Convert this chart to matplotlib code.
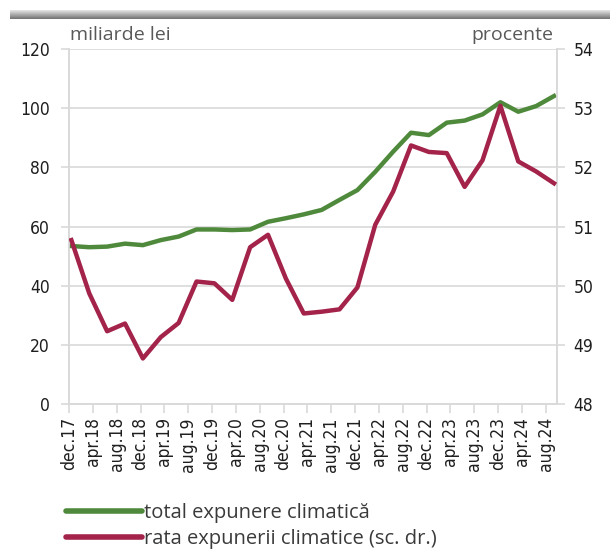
import matplotlib
matplotlib.use('Agg')
import matplotlib.pyplot as plt
import numpy as np
from matplotlib.lines import Line2D

# ---- data (quarterly, dec.17 .. sep.24) ----
total_expunere = [53.4, 53.0, 53.2, 54.2, 53.7, 55.4, 56.6, 59.0, 59.0, 58.8,
                  59.0, 61.6, 62.8, 64.1, 65.6, 69.0, 72.3, 78.5, 85.3, 91.7,
                  90.9, 95.1, 95.8, 97.9, 102.0, 98.8, 100.7, 104.1]
rata_expunerii = [50.77, 49.87, 49.23, 49.36, 48.77, 49.13, 49.37, 50.07, 50.04, 49.76,
                  50.65, 50.86, 50.12, 49.53, 49.56, 49.60, 49.97, 51.03, 51.59, 52.37,
                  52.26, 52.24, 51.67, 52.12, 53.04, 52.10, 51.93, 51.73]
tick_labels = ['dec.17', 'apr.18', 'aug.18', 'dec.18', 'apr.19', 'aug.19', 'dec.19',
               'apr.20', 'aug.20', 'dec.20', 'apr.21', 'aug.21', 'dec.21', 'apr.22',
               'aug.22', 'dec.22', 'apr.23', 'aug.23', 'dec.23', 'apr.24', 'aug.24']
left_ticks = [0, 20, 40, 60, 80, 100, 120]
right_ticks = [48, 49, 50, 51, 52, 53, 54]
series_names = ['total expunere climatică', 'rata expunerii climatice (sc. dr.)']

GREEN = '#4f8a3c'
RED = '#a3234a'
GRID = '#d9d9d9'
TXT = '#1e1e1e'
REG = ['Open Sans', 'DejaVu Sans']


def condense(labels, size):
    for lab in labels:
        lab.set_family('DejaVu Sans')
        lab.set_fontstretch('condensed')
        lab.set_fontsize(size)
        lab.set_color(TXT)


W, H = 610, 551
fig = plt.figure(figsize=(W / 100, H / 100), dpi=100)

# top shadow bar
bar = fig.add_axes([10 / W, 1 - 19 / H, 600 / W, 9 / H])
grad = np.linspace(0.9, 0.45, 20).reshape(-1, 1)
bar.imshow(grad, aspect='auto', cmap='gray', vmin=0, vmax=1, extent=[0, 1, 0, 1])
bar.axis('off')

L, R, T, B = 69, 557, 49, 404
ax = fig.add_axes([L / W, 1 - B / H, (R - L) / W, (B - T) / H])

months = np.arange(len(total_expunere)) * 3  # months since dec.17
ax.plot(months, total_expunere, color=GREEN, lw=3.2, zorder=3)
ax.set_ylim(0, 120)
ax.set_yticks(left_ticks)
ax.set_xlim(-0.4, 81.5)
ax.set_xticks(np.arange(len(tick_labels)) * 4 - 0.4)
ax.set_xticklabels(tick_labels, rotation=90)

ax.grid(axis='y', color=GRID, lw=1.2, zorder=0)
ax.set_axisbelow(True)
ax.spines['top'].set_visible(False)
for s in ['left', 'right', 'bottom']:
    ax.spines[s].set_color(GRID)
    ax.spines[s].set_linewidth(1.2)
ax.tick_params(axis='y', direction='out', length=6, width=1.2, color=GRID, pad=8)
ax.tick_params(axis='x', direction='out', length=6.5, width=1.2, color=GRID, pad=3)
condense(ax.get_yticklabels(), 12.5)
condense(ax.get_xticklabels(), 12.5)

ax2 = ax.twinx()
ax2.plot(months, rata_expunerii, color=RED, lw=3.2, zorder=4)
ax2.set_ylim(48, 54)
ax2.set_yticks(right_ticks)
ax2.spines['top'].set_visible(False)
for s in ['left', 'right', 'bottom']:
    ax2.spines[s].set_color(GRID)
    ax2.spines[s].set_linewidth(1.2)
ax2.tick_params(axis='y', direction='out', length=6, width=1.2, color=GRID, pad=6)
condense(ax2.get_yticklabels(), 12.5)

fig.text(70 / W, 1 - 40 / H, 'miliarde lei', fontsize=14, color='#595959',
         family=REG, ha='left', va='baseline')
fig.text(553 / W, 1 - 40 / H, 'procente', fontsize=14, color='#595959',
         family=REG, ha='right', va='baseline')

handles = [Line2D([], [], color=GREEN, lw=4, solid_capstyle='round'),
           Line2D([], [], color=RED, lw=4, solid_capstyle='round')]
fig.legend(handles, series_names, loc='upper left',
           bbox_to_anchor=(62 / W, 1 - 499 / H), frameon=False,
           prop={'family': REG, 'size': 14.5}, labelcolor='#3a3a3a',
           handlelength=3.75, handletextpad=0.1, labelspacing=0.3,
           borderaxespad=0, borderpad=0.2)

fig.savefig('out.png', dpi=100)
